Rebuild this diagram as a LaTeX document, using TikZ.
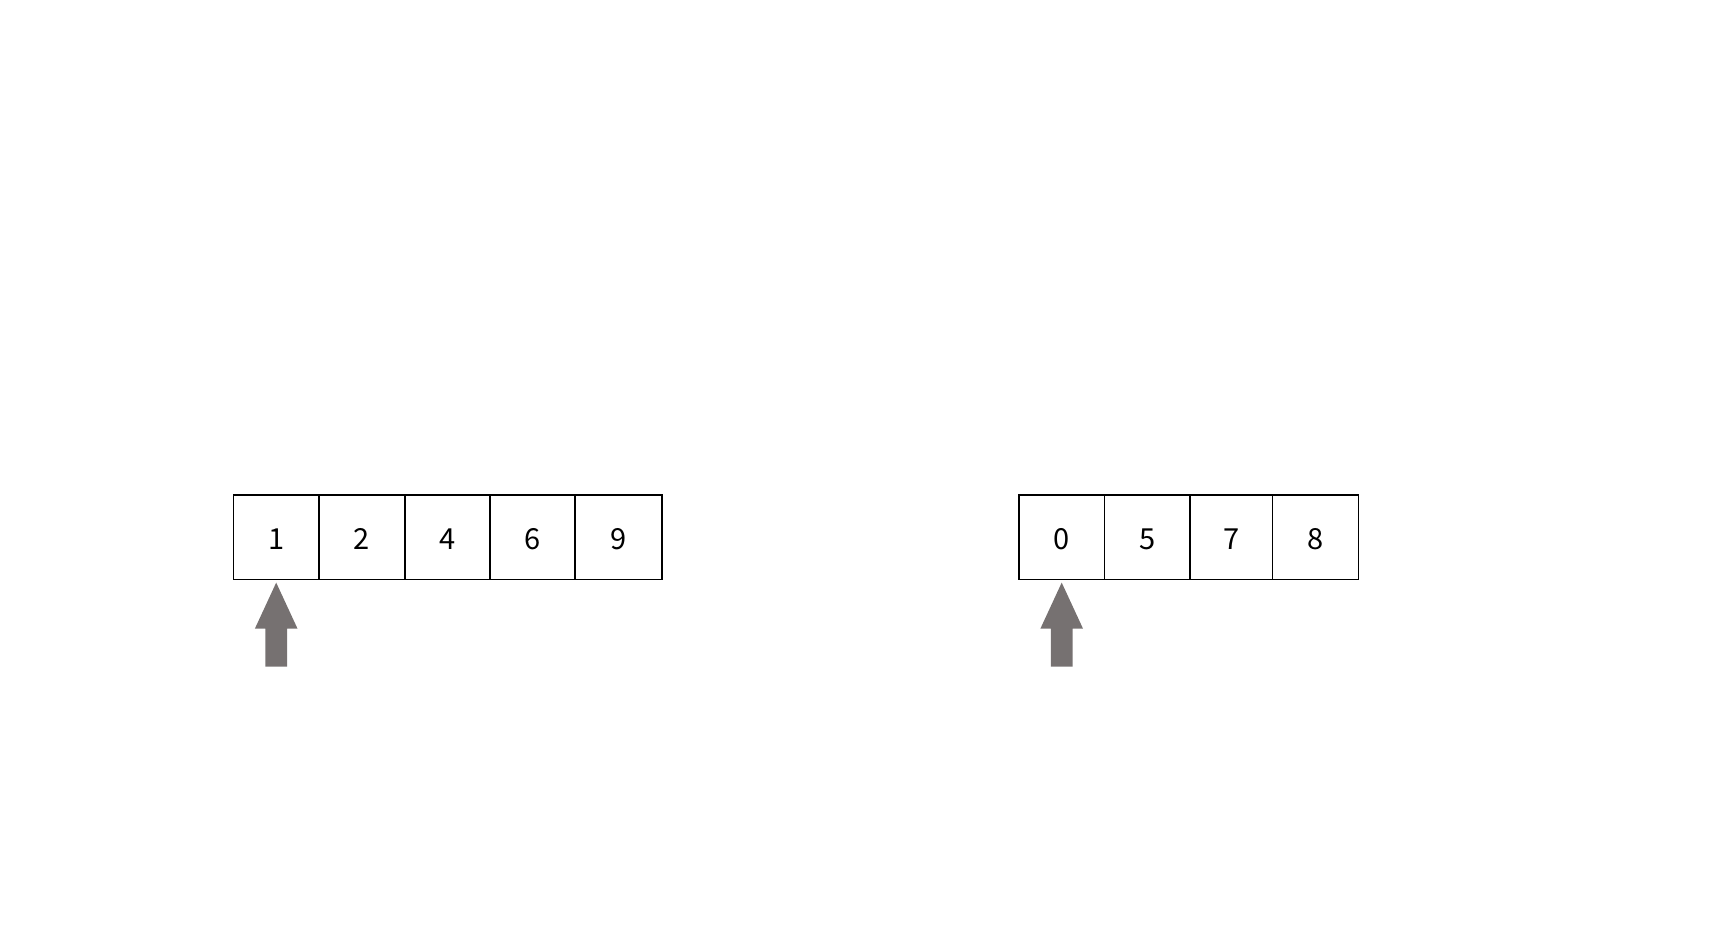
\documentclass[tikz,border=0pt]{standalone}
\usepackage{fontspec}
\setmainfont{Noto Sans CJK JP}
\definecolor{arrowgray}{HTML}{767171}
\begin{document}
\begin{tikzpicture}[x=1pt,y=-1pt,
  cell/.style={draw=black,line width=1.5pt,minimum height=84.3pt,inner sep=0pt,text height=25pt,text depth=0pt,font=\fontsize{29}{30}\selectfont},
  ptr/.style={fill=arrowgray,draw=none}]
\useasboundingbox (0,0) rectangle (1716,946);
% left array
\node[cell,minimum width=85.7pt] (a1) at (276.2,537.2) {1};
\node[cell,minimum width=86pt]   (a2) at (362,537.2) {2};
\node[cell,minimum width=85pt]   (a3) at (447.5,537.2) {4};
\node[cell,minimum width=85pt]   (a4) at (532.5,537.2) {6};
\node[cell,minimum width=86.7pt] (a5) at (618.4,537.2) {9};
% right array
\node[cell,minimum width=85.3pt] (b1) at (1061.7,537.2) {0};
\node[cell,minimum width=85.7pt] (b2) at (1147.2,537.2) {5};
\node[cell,minimum width=82.3pt] (b3) at (1231.2,537.2) {7};
\node[cell,minimum width=86pt]   (b4) at (1315.3,537.2) {8};
% pointers
\foreach \n in {a1,b1}{
  \path (\n.south) ++(0,2.5) coordinate (\n tip);
  \fill[ptr] (\n tip) -- ++(21.3,46) -- ++(-10.5,0) -- ++(0,38) -- ++(-21.6,0) -- ++(0,-38) -- ++(-10.5,0) -- cycle;
}
\end{tikzpicture}
\end{document}
